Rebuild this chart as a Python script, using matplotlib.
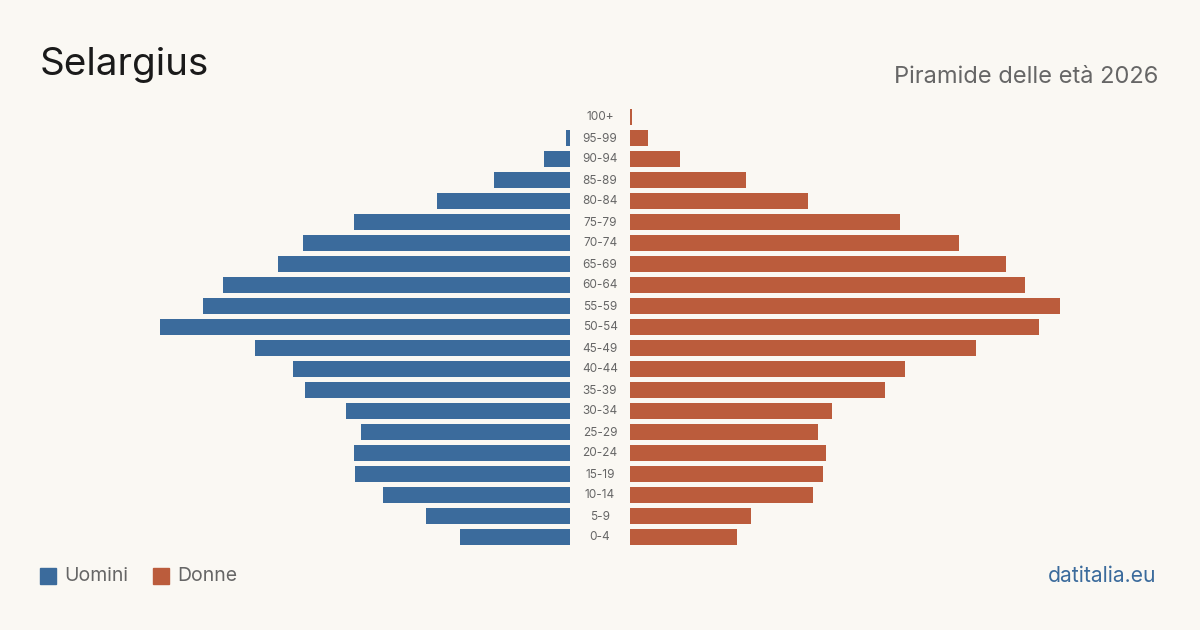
import matplotlib
matplotlib.use("Agg")
import matplotlib.pyplot as plt
from matplotlib.patches import Rectangle

plt.rcParams['font.family'] = ['Inter', 'DejaVu Sans']

age_groups = ["100+", "95-99", "90-94", "85-89", "80-84", "75-79", "70-74", "65-69",
              "60-64", "55-59", "50-54", "45-49", "40-44", "35-39", "30-34", "25-29",
              "20-24", "15-19", "10-14", "5-9", "0-4"]
men = [0, 4, 26, 76, 133, 216, 267, 292, 347, 367, 410, 315, 277, 265, 224, 209,
       216, 215, 187, 144, 110]
women = [2, 18, 50, 116, 178, 270, 329, 376, 395, 430, 409, 346, 275, 255, 202, 188,
         196, 193, 183, 121, 107]

title = "Selargius"
subtitle = "Piramide delle età 2026"
legend_labels = ["Uomini", "Donne"]
source = "datitalia.eu"

BG = "#faf8f3"
C_M = "#3b6b9c"
C_F = "#bb5c3c"
GRAY = "#666666"

W, H = 1200, 630
fig = plt.figure(figsize=(W / 100, H / 100), dpi=100, facecolor=BG)

n = len(age_groups)
ypos = list(range(n))
ax_bottom = 1 - 547.5 / H
ax_h = (547.5 - 106.5) / H
axL = fig.add_axes([130 / W, ax_bottom, 440 / W, ax_h])
axR = fig.add_axes([630 / W, ax_bottom, 440 / W, ax_h])

for ax in (axL, axR):
    ax.set_facecolor("none")
    ax.set_ylim(n - 0.5, -0.5)
    for s in ax.spines.values():
        s.set_visible(False)
    ax.set_xticks([])
    ax.set_yticks([])

axL.barh(ypos, men, height=0.8, color=C_M)
axL.set_xlim(440, 0)
axR.barh(ypos, women, height=0.8, color=C_F)
axR.set_xlim(0, 440)

for i, lab in enumerate(age_groups):
    y = 1 - (117.5 + 21 * i) / H
    fig.text(600 / W, y, lab, ha="center", va="center", fontsize=8.5, color=GRAY)

fig.text(39.5 / W, 1 - 65 / H, title, ha="left", va="center", fontsize=27.8, color="#1a1a1a")
fig.text(1158 / W, 1 - 77 / H, subtitle, ha="right", va="center", fontsize=17, color=GRAY)

# legend
for x0, col, lab in [(40, C_M, legend_labels[0]), (153, C_F, legend_labels[1])]:
    fig.patches.append(Rectangle((x0 / W, 1 - 584 / H), 16 / W, 16 / H,
                                 transform=fig.transFigure, color=col))
    fig.text((x0 + 24) / W, 1 - 576 / H, lab, ha="left", va="center",
             fontsize=14, color=GRAY)

fig.text(1156 / W, 1 - 576 / H, source, ha="right", va="center", fontsize=15.2, color=C_M)

fig.savefig("out.png", dpi=100, facecolor=BG)
